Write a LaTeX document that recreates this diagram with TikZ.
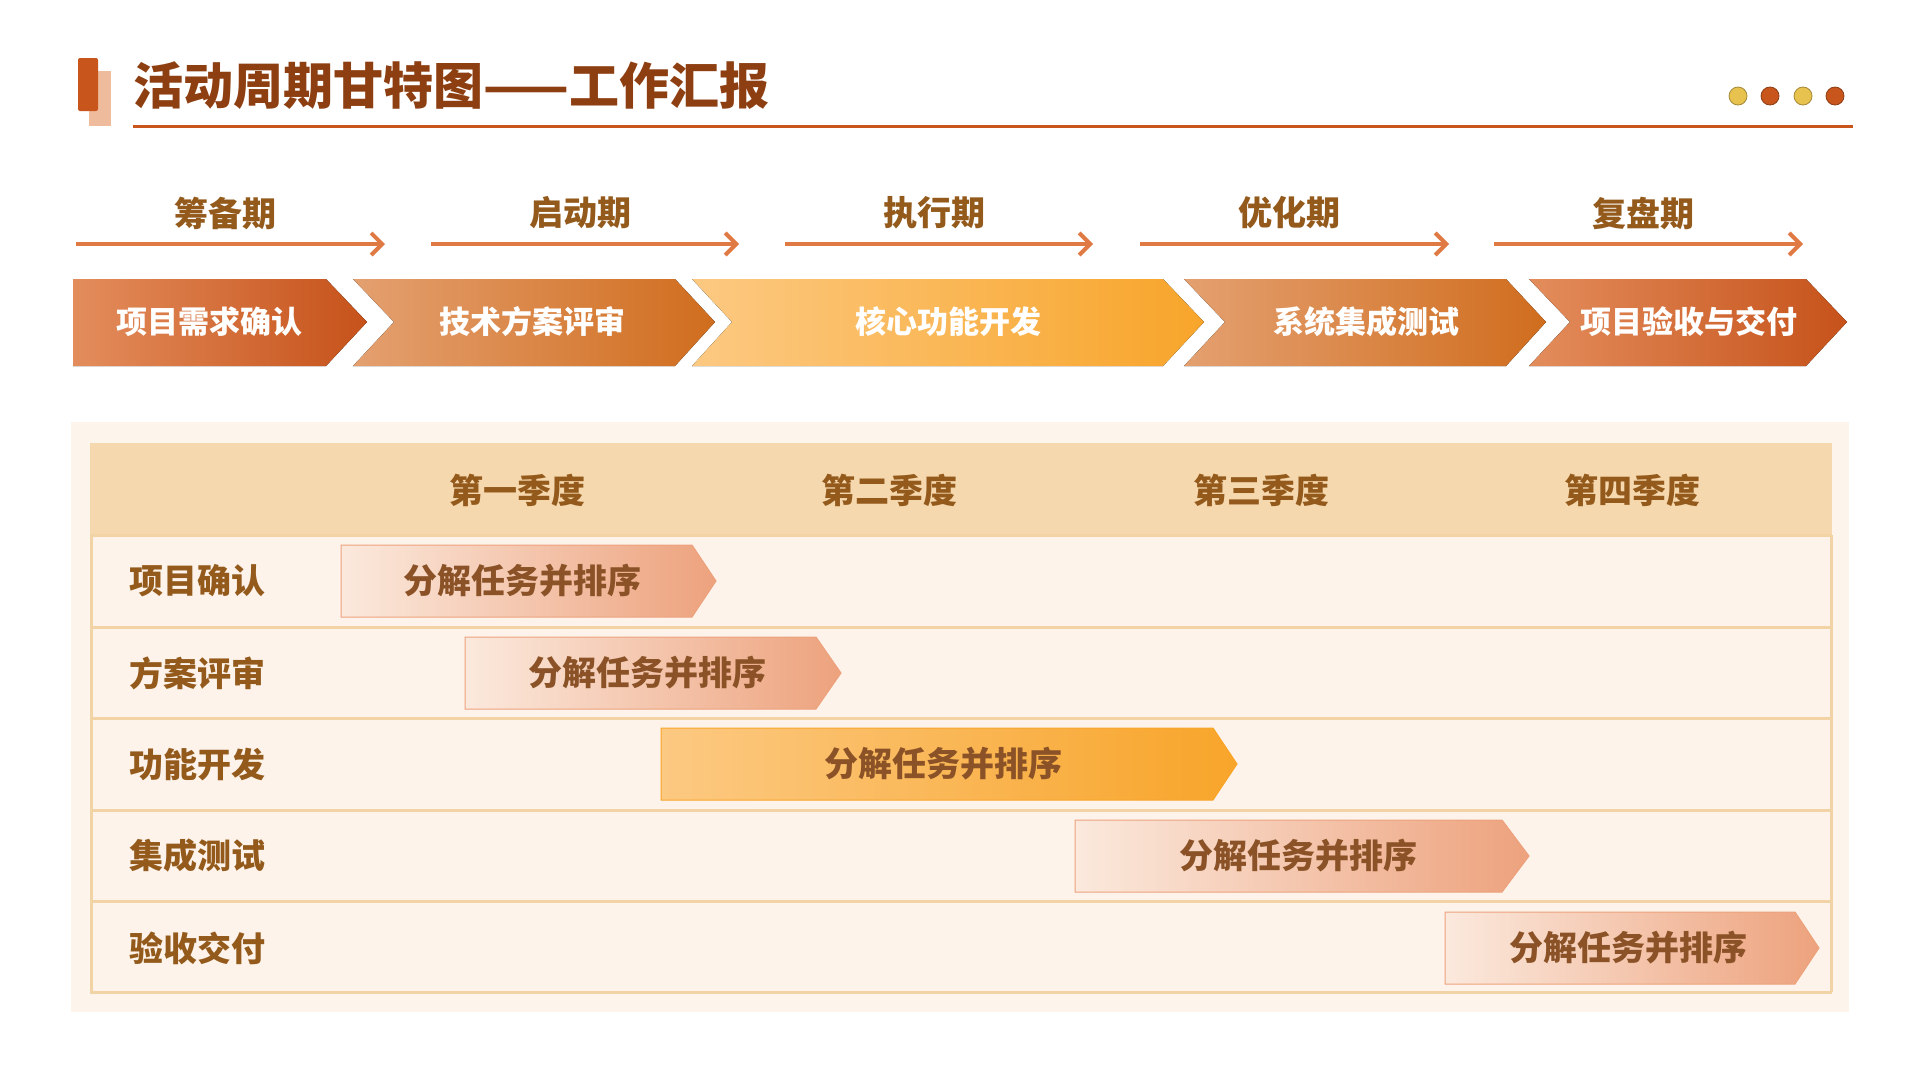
\documentclass[tikz,border=0pt]{standalone}
\usepackage{fontspec}
\setmainfont{Noto Sans CJK SC}
\begin{document}
\begin{tikzpicture}[x=1pt,y=-1pt,
  ttl/.style={font=\fontsize{50}{54}\selectfont\bfseries,text=brown1,anchor=west,inner sep=0},
  phase/.style={font=\fontsize{34}{38}\selectfont\bfseries,text=brown2,inner sep=0},
  parr/.style={draw=arrc,line width=4pt,-{Straight Barb[length=11pt,width=22pt,line width=4pt]}},
  chtxt/.style={font=\fontsize{31}{34}\selectfont\bfseries,text=white,inner sep=0},
  qtxt/.style={font=\fontsize{34}{38}\selectfont\bfseries,text=brown2,inner sep=0},
  rtxt/.style={font=\fontsize{34}{38}\selectfont\bfseries,text=brown2,anchor=west,inner sep=0},
  btxt/.style={font=\fontsize{34}{38}\selectfont\bfseries,text=brown3,inner sep=0},
  lightbar/.style={left color=barL,right color=barR,draw=barR,line width=1pt},
  orbar/.style={left color=or3L,right color=or3R,draw=or3R,line width=1pt}]
\usetikzlibrary{arrows.meta}
\definecolor{brown1}{HTML}{8E3F12}
\definecolor{brown2}{HTML}{935A1C}
\definecolor{brown3}{HTML}{8A5226}
\definecolor{dor}{HTML}{C8561C}
\definecolor{arrc}{HTML}{E07A45}
\definecolor{or1L}{HTML}{E38D5C}\definecolor{or1R}{HTML}{C6521A}
\definecolor{or2L}{HTML}{E4A070}\definecolor{or2R}{HTML}{D06D1E}
\definecolor{or3L}{HTML}{FCC982}\definecolor{or3R}{HTML}{F8A52A}
\definecolor{barL}{HTML}{FBE9DD}\definecolor{barR}{HTML}{EDA27D}
\definecolor{panel}{HTML}{FDF5EC}
\definecolor{head}{HTML}{F6D8AE}
\definecolor{rowc}{HTML}{FDF3EA}
\definecolor{linec}{HTML}{F1D3A6}
\definecolor{yel}{HTML}{E8C24E}
\useasboundingbox[fill=white] (0,0) rectangle (1920,1080);
% title
\fill[fill=or1L!60] (89,71) rectangle (111,126);
\fill[dor,rounded corners=2pt] (78,58) rectangle (98,111);
\node[ttl] (title) at (133,86) {活动周期甘特图——工作汇报};
\draw[dor,line width=3pt] (133,126) -- (1853,126);
\foreach \x/\c in {1738/yel,1770/dor,1803/yel,1835/dor}
  \filldraw[fill=\c,draw=\c!70!black,line width=0.8pt] (\x,96) circle (9);
% phases
\foreach \i/\a/\b/\t in {1/76/385/筹备期,2/431/739/启动期,3/785/1093/执行期,4/1140/1449/优化期,5/1494/1803/复盘期}{
  \coordinate (ps\i) at (\a,244); \coordinate (pe\i) at (\b,244);
  \draw[parr] (ps\i) -- (pe\i);
  \node[phase] (ph\i) at ({(\a+\b)/2-5},213) {\t};
}
% chevrons
\fill[left color=or1L,right color=or1R] (73,279) -- (326,279) -- (367,322) -- (326,366) -- (73,366) -- cycle;
\fill[left color=or2L,right color=or2R] (353,279) -- (675,279) -- (715,322) -- (675,366) -- (353,366) -- (394,322) -- cycle;
\fill[left color=or3L,right color=or3R] (692,279) -- (1163,279) -- (1204,322) -- (1163,366) -- (692,366) -- (732,322) -- cycle;
\fill[left color=or2L,right color=or2R] (1184,279) -- (1506,279) -- (1546,322) -- (1506,366) -- (1184,366) -- (1225,322) -- cycle;
\fill[left color=or1L,right color=or1R] (1529,279) -- (1806,279) -- (1847,322) -- (1806,366) -- (1529,366) -- (1570,322) -- cycle;
\node[chtxt] (c1) at (209,322) {项目需求确认};
\node[chtxt] (c2) at (532,322) {技术方案评审};
\node[chtxt] (c3) at (948,322) {核心功能开发};
\node[chtxt] (c4) at (1366,322) {系统集成测试};
\node[chtxt] (c5) at (1689,322) {项目验收与交付};
% table
\fill[panel] (71,422) rectangle (1849,1012);
\fill[head] (90,443) rectangle (1832,535);
\fill[rowc] (90,535) rectangle (1832,992);
\foreach \y in {535,627,718,810,901,992} \draw[linec,line width=3pt] (90,\y) -- (1832,\y);
\draw[linec,line width=3pt] (91,535) -- (91,992) (1831,535) -- (1831,992);
\foreach \x/\t/\n in {517/第一季度/q1,889/第二季度/q2,1261/第三季度/q3,1632/第四季度/q4}
  \node[qtxt] (\n) at (\x,490) {\t};
\foreach \y/\t/\n in {581/项目确认/r1,673/方案评审/r2,764/功能开发/r3,856/集成测试/r4,948/验收交付/r5}
  \node[rtxt] (\n) at (129,\y) {\t};
% bars
\draw[lightbar] (341,545) -- (692,545) -- (716,581) -- (692,617) -- (341,617) -- cycle;
\draw[lightbar] (465,637) -- (816,637) -- (841,673) -- (816,709) -- (465,709) -- cycle;
\draw[orbar] (661,728) -- (1213,728) -- (1237,764) -- (1213,800) -- (661,800) -- cycle;
\draw[lightbar] (1075,820) -- (1502,820) -- (1529,856) -- (1502,892) -- (1075,892) -- cycle;
\draw[lightbar] (1445,912) -- (1795,912) -- (1819,948) -- (1795,984) -- (1445,984) -- cycle;
\node[btxt] (b1) at (522,581) {分解任务并排序};
\node[btxt] (b2) at (647,673) {分解任务并排序};
\node[btxt] (b3) at (943,764) {分解任务并排序};
\node[btxt] (b4) at (1298,856) {分解任务并排序};
\node[btxt] (b5) at (1628,948) {分解任务并排序};
\end{tikzpicture}
\end{document}
